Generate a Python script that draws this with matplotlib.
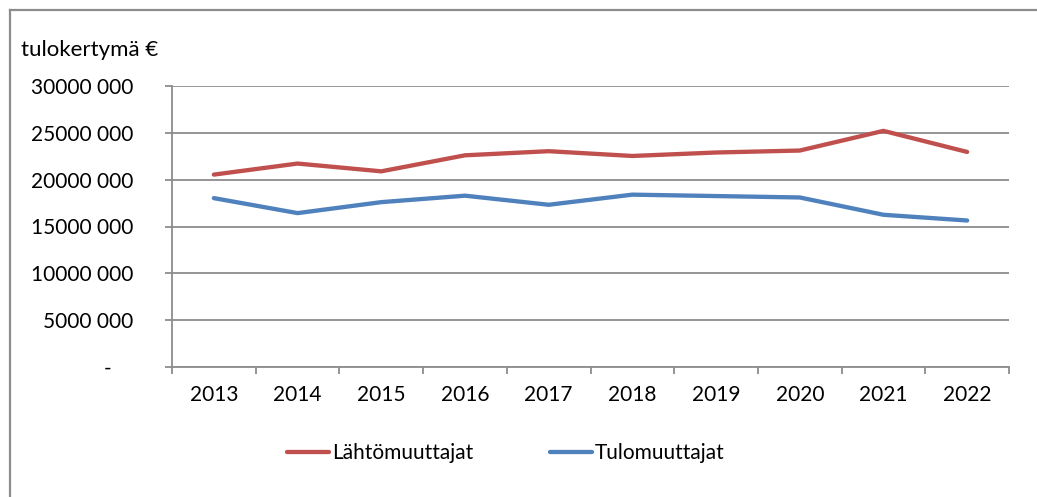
import matplotlib
matplotlib.use("Agg")
import matplotlib.pyplot as plt
from matplotlib.lines import Line2D
from matplotlib.ticker import FuncFormatter, FixedLocator

years = ["2013", "2014", "2015", "2016", "2017", "2018", "2019", "2020", "2021", "2022"]
lahtomuuttajat = [20540000, 21720000, 20890000, 22600000, 23040000, 22530000, 22900000, 23110000, 25210000, 22960000]
tulomuuttajat = [18030000, 16430000, 17600000, 18290000, 17320000, 18400000, 18250000, 18100000, 16250000, 15640000]
y_ticks = [0, 5000000, 10000000, 15000000, 20000000, 25000000, 30000000]
series_names = ["Lähtömuuttajat", "Tulomuuttajat"]
y_title = "tulokertymä €"

plt.rcParams['font.family'] = ['Lato', 'DejaVu Sans']
W, H = 1037, 497
fig = plt.figure(figsize=(W / 100, H / 100), dpi=100)
ax = fig.add_axes([172 / W, 1 - 367 / H, (1009 - 172) / W, (367 - 86) / H])

x = list(range(len(years)))
ax.plot(x, lahtomuuttajat, color="#C0504D", lw=3.1, solid_capstyle="round", label=series_names[0], zorder=3)
ax.plot(x, tulomuuttajat, color="#4F81BD", lw=3.1, solid_capstyle="round", label=series_names[1], zorder=3)

grid_c = "#8c8c8c"
ax.set_xlim(-0.5, len(years) - 0.5)
ax.set_ylim(0, 30000000)
ax.yaxis.set_major_locator(FixedLocator(y_ticks))

def fmt(v, pos):
    v = int(round(v))
    if v == 0:
        return "-    "
    return f"{v // 1000} {v % 1000:03d}"

ax.yaxis.set_major_formatter(FuncFormatter(fmt))
ax.grid(axis="y", color=grid_c, lw=1.3)
ax.set_axisbelow(True)
ax.set_xticks(x)
ax.set_xticklabels(years)
ax.set_xticks([i - 0.5 for i in range(len(years) + 1)], minor=True)
ax.tick_params(axis="x", which="major", length=0, pad=13, labelsize=15)
ax.tick_params(axis="x", which="minor", length=5, width=1.3, color=grid_c, direction="out")
ax.tick_params(axis="y", length=5, width=1.3, color=grid_c, pad=23, labelsize=15)
for s in ["top", "right"]:
    ax.spines[s].set_visible(False)
for s in ["left", "bottom"]:
    ax.spines[s].set_color(grid_c)
    ax.spines[s].set_linewidth(1.3)

fig.text(21 / W, 1 - 50 / H, y_title, fontsize=16, ha="left", va="center")

leg = fig.legend(loc="center", bbox_to_anchor=(506 / W, 1 - 453 / H), ncol=2, frameon=False,
                 fontsize=15, handlelength=2.0, handletextpad=0.15, columnspacing=3.7)

# outer chart frame (left and top edges visible)
fig.add_artist(Line2D([9.5 / W, 9.5 / W], [0, 1 - 10 / H], color="#8c8c8c", lw=1.6, transform=fig.transFigure))
fig.add_artist(Line2D([9.5 / W, 1.0], [1 - 10 / H, 1 - 10 / H], color="#8c8c8c", lw=1.6, transform=fig.transFigure))

fig.savefig("out.png", dpi=100)
